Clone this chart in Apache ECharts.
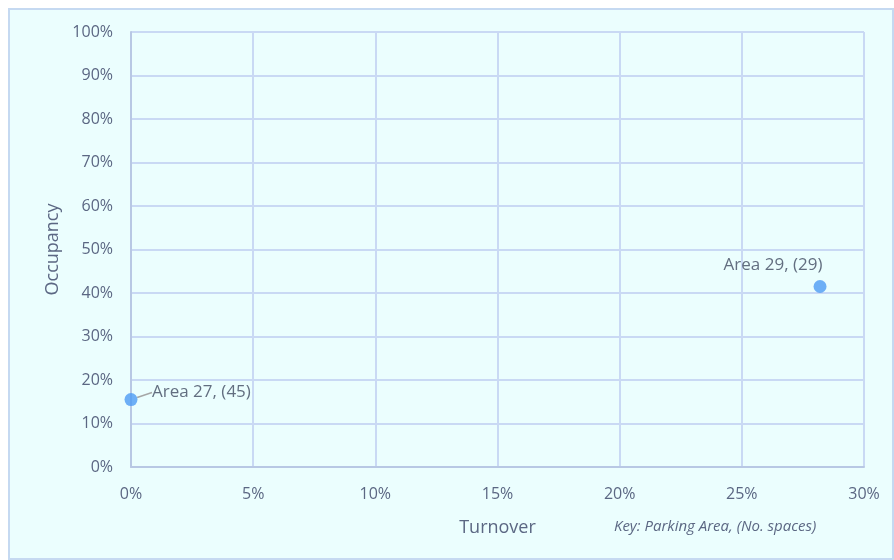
<!DOCTYPE html>
<html>
<head>
<meta charset="utf-8">
<script src="https://cdn.jsdelivr.net/npm/echarts@6/dist/echarts.min.js"></script>
<style>
  html, body { margin: 0; padding: 0; background: #fff; }
  #chart { width: 894px; height: 560px; }
</style>
</head>
<body>
<div id="chart"></div>
<script>
var areaNames = ['Area 27, (45)', 'Area 29, (29)'];
var turnover = [0.0, 28.2];
var occupancy = [15.5, 41.5];

var textColor = '#5b6783';
var gridColor = '#c9d9f4';

var points = areaNames.map(function (n, i) {
  return {
    name: n,
    value: [turnover[i], occupancy[i]],
    labelLine: { show: i === 0 }
  };
});

var option = {
  backgroundColor: '#ffffff',
  graphic: [
    {
      type: 'rect',
      shape: { x: 9, y: 9, width: 884, height: 550 },
      style: { fill: '#ebfefe', stroke: '#c5d9f1', lineWidth: 2 },
      z: -10
    },
    {
      type: 'text',
      left: 614, top: 519,
      style: {
        text: 'Key: Parking Area, (No. spaces)',
        font: 'italic 15px "Open Sans", "Liberation Sans", sans-serif',
        fill: textColor
      }
    }
  ],
  grid: { left: 131, right: 30, top: 32, bottom: 93 },
  xAxis: {
    type: 'value',
    min: 0, max: 30, interval: 5,
    name: 'Turnover',
    nameLocation: 'middle',
    nameGap: 52,
    nameTextStyle: { color: textColor, fontSize: 18, fontFamily: 'Open Sans' },
    axisLabel: { formatter: '{value}%', color: textColor, fontSize: 16, margin: 19, fontFamily: 'Open Sans' },
    axisLine: { show: true, lineStyle: { color: '#b8c8e4', width: 2 } },
    axisTick: { show: false },
    splitLine: { show: true, lineStyle: { color: gridColor, width: 2 } }
  },
  yAxis: {
    type: 'value',
    min: 0, max: 100, interval: 10,
    name: 'Occupancy',
    nameLocation: 'middle',
    nameGap: 68,
    nameTextStyle: { color: textColor, fontSize: 18, fontFamily: 'Open Sans' },
    axisLabel: { formatter: '{value}%', color: textColor, fontSize: 16, margin: 18, fontFamily: 'Open Sans' },
    axisLine: { show: true, lineStyle: { color: '#b8c8e4', width: 2 } },
    axisTick: { show: false },
    splitLine: { show: true, lineStyle: { color: gridColor, width: 2 } }
  },
  series: [
    {
      type: 'scatter',
      symbolSize: 13,
      itemStyle: { color: '#4e9bf4' },
      data: points,
      label: {
        show: true,
        formatter: '{b}',
        color: '#404a60',
        fontSize: 17,
        fontFamily: 'Open Sans'
      },
      labelLayout: function (params) {
        var cx = params.rect.x + params.rect.width / 2;
        var cy = params.rect.y + params.rect.height / 2;
        if (params.dataIndex === 0) {
          return { x: cx + 21, y: cy - 7, align: 'left', verticalAlign: 'middle' };
        }
        return { x: cx - 47, y: cy - 21, align: 'center', verticalAlign: 'middle' };
      },
      labelLine: { show: true, lineStyle: { color: '#a6a6a6', width: 1.5 } }
    }
  ]
};

var chart = echarts.init(document.getElementById('chart'));
chart.setOption(option);
</script>
</body>
</html>
